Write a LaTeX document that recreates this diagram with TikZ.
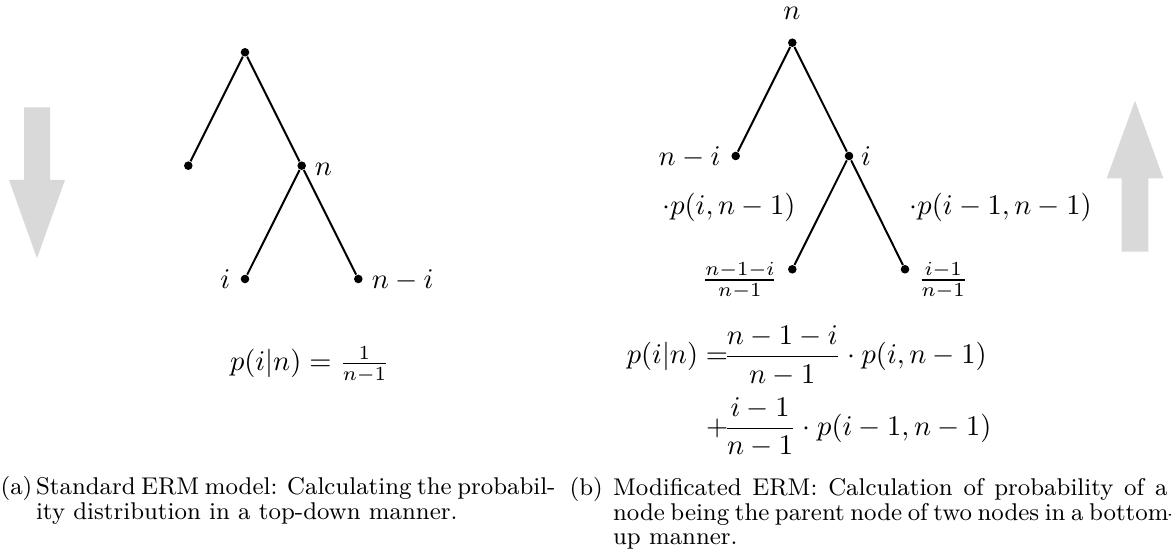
\documentclass[tikz,border=0pt]{standalone}
\usepackage{fontspec}
\definecolor{arrowgray}{RGB}{217,217,217}
\begin{document}
\begin{tikzpicture}[x=0.351pt,y=-0.351pt,
  dot/.style={circle,fill=black,inner sep=0pt,minimum size=3pt},
  edge/.style={line width=0.7pt},
  lbl/.style={inner sep=0pt},
  captxt/.style={inner sep=0pt,font=\fontsize{8.5}{10}\selectfont},
  bigarrow/.style={fill=arrowgray}]
\useasboundingbox (0,0) rectangle (1171,559);

% ---------- (a) top-down ----------
\fill[bigarrow] (24,107.3) -- (50,107.3) -- (50,180) -- (65,180) -- (37,258.3)
  -- (9,180) -- (24,180) -- cycle;

\node[dot] (a1) at (245,52.3) {};
\node[dot] (a2) at (188.3,165.7) {};
\node[dot] (a3) at (301.7,165.7) {};
\node[dot] (a4) at (245,279) {};
\node[dot] (a5) at (358.3,279) {};
\draw[edge] (a1) -- (a2);
\draw[edge] (a1) -- (a3);
\draw[edge] (a3) -- (a4);
\draw[edge] (a3) -- (a5);

\node[lbl,anchor=base west] (la3) at (314.4,175.2) {$n$};
\node[lbl,anchor=base east] (la4) at (230.8,288.5) {$i$};
\node[lbl,anchor=base west] (la5) at (371.2,288.5) {$n-i$};

\node[lbl,anchor=base west] (fa) at (229.5,370.5) {$p(i|n) = \frac{1}{n-1}$};

% ---------- (b) bottom-up ----------
\fill[bigarrow] (1121.7,251.7) -- (1148.3,251.7) -- (1148.3,178.3) -- (1163.3,178.3)
  -- (1135,100.7) -- (1106.7,178.3) -- (1121.7,178.3) -- cycle;

\node[dot] (b1) at (792.3,42.7) {};
\node[dot] (b2) at (735.7,156) {};
\node[dot] (b3) at (849,156) {};
\node[dot] (b4) at (792.3,269.3) {};
\node[dot] (b5) at (905,269.3) {};
\draw[edge] (b1) -- (b2);
\draw[edge] (b1) -- (b3);
\draw[edge] (b3) -- (b4);
\draw[edge] (b3) -- (b5);

\node[lbl,anchor=base] (lb1) at (792,20) {$n$};
\node[lbl,anchor=base east] (lb2) at (721,165.5) {$n-i$};
\node[lbl,anchor=base west] (lb3) at (860.5,165.5) {$i$};
\node[lbl,anchor=base east] (pl) at (796,215) {$\cdot p(i,n-1)$};
\node[lbl,anchor=base west] (pr) at (909,215) {$\cdot p(i-1,n-1)$};
\node[lbl,anchor=base east] (lb4) at (778.4,287.1) {$\frac{n-1-i}{n-1}$};
\node[lbl,anchor=base west] (lb5) at (917.6,287.1) {$\frac{i-1}{n-1}$};

\node[lbl,anchor=base west] (fb1) at (626.2,363.8)
  {$\displaystyle {p(i|n) =}\!\frac{n-1-i}{n-1}\cdot p(i,n-1)$};
\node[lbl,anchor=base west] (fb2) at (705.6,435.4)
  {$\displaystyle {+}\!\frac{i-1}{n-1}\cdot p(i-1,n-1)$};

% ---------- captions ----------
\node[captxt,anchor=base west] (capa) at (0,495) {(a)};
\node[captxt,anchor=base west] (capa1) at (35.5,495)
  {\makebox[182pt][s]{Standard ERM model: Calculating the probabil-}};
\node[captxt,anchor=base west] (capa2) at (35.5,519.5)
  {ity distribution in a top-down manner.};

\node[captxt,anchor=base west] (capb) at (569,495.5) {(b)};
\node[captxt,anchor=base west] (capb1) at (612.5,495.5)
  {\makebox[194.6pt][s]{Modificated ERM: Calculation of probability of a}};
\node[captxt,anchor=base west] (capb2) at (612.5,520.5)
  {\makebox[194.6pt][s]{node being the parent node of two nodes in a bottom-}};
\node[captxt,anchor=base west] (capb3) at (612.5,545)
  {up manner.};
\end{tikzpicture}
\end{document}
